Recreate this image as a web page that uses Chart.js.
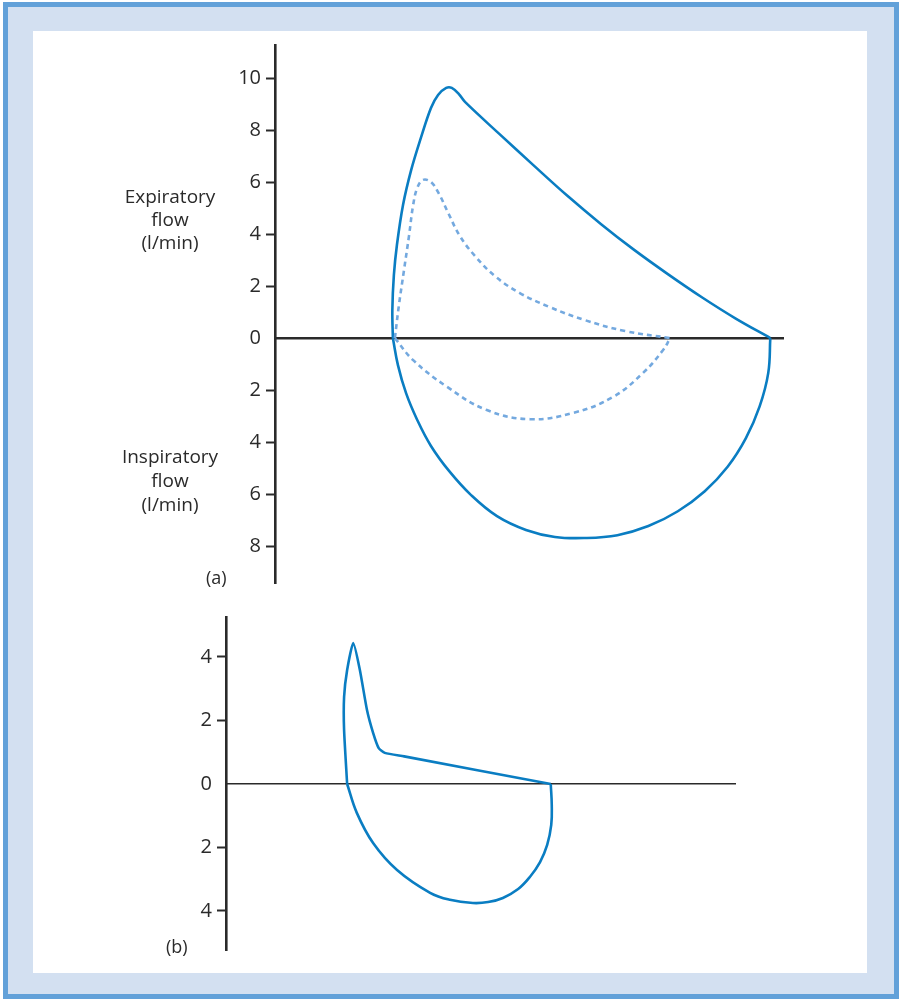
<!DOCTYPE html>
<html>
<head>
<meta charset="utf-8">
<script src="https://cdn.jsdelivr.net/npm/chart.js@4.4.1/dist/chart.umd.min.js"></script>
<style>
  body { margin:0; background:#fff; width:903px; height:1002px; position:relative; overflow:hidden;
         font-family:'Open Sans', sans-serif; color:#2a2a2a; }
  #frame { position:absolute; left:3px; top:2px; width:886px; height:987px; border:5px solid #62a1d9; background:#d3e0f1; }
  #panel { position:absolute; left:33px; top:31px; width:834px; height:942px; background:#fff; }
  canvas { position:absolute; }
  .lbl { position:absolute; left:95px; width:150px; text-align:center; font-size:19px; }
  .tag { position:absolute; font-size:18px; }
</style>
</head>
<body>
<div id="frame"></div>
<div id="panel"></div>

<canvas id="chartA" width="600" height="572" style="left:200px;top:28px"></canvas>
<canvas id="chartB" width="601" height="367" style="left:151px;top:600px"></canvas>

<div class="lbl" style="top:185px;line-height:23px">Expiratory<br>flow<br>(l/min)</div>
<div class="lbl" style="top:444px;line-height:24px">Inspiratory<br>flow<br>(l/min)</div>
<div class="tag" style="left:206px;top:565px">(a)</div>
<div class="tag" style="left:166px;top:934px">(b)</div>

<script>
// (a) maximal effort loop (solid)
const aExpVol  = [2.32, 2.31, 2.34, 2.40, 2.52, 2.68, 2.87, 3.07, 3.21, 3.37, 3.48, 3.62, 3.74,
                  4.41, 5.08, 5.75, 6.42, 7.07, 7.74, 8.41, 9.07, 9.75];
const aExpFlow = [0, 1.08, 2.42, 3.58, 5.12, 6.46, 7.69, 8.85, 9.35, 9.62, 9.62, 9.38, 9.08,
                  7.86, 6.66, 5.48, 4.38, 3.39, 2.45, 1.56, 0.75, 0];
const aInsVol  = [2.32, 2.42, 2.58, 2.80, 3.07, 3.43, 3.86, 4.37, 4.94, 5.51, 6.10,
                  6.74, 7.35, 7.93, 8.46, 8.91, 9.27, 9.54, 9.71, 9.75];
const aInsFlow = [0, -1.04, -2.12, -3.15, -4.15, -5.12, -6.04, -6.85, -7.38, -7.65, -7.69,
                  -7.58, -7.23, -6.66, -5.89, -4.95, -3.85, -2.63, -1.34, 0];

// (a) tidal loop (dashed)
const aTidExpVol  = [2.36, 2.44, 2.54, 2.64, 2.72, 2.80, 2.91, 3.07, 3.23, 3.41, 3.64, 3.94, 4.33, 4.82, 5.41, 6.10, 6.89, 7.78];
const aTidExpFlow = [0, 1.27, 2.62, 3.96, 5.12, 5.77, 6.08, 6.0, 5.54, 4.81, 3.92, 3.15, 2.38, 1.73, 1.19, 0.69, 0.27, 0];
const aTidInsVol  = [2.36, 2.72, 3.39, 4.17, 5.02, 5.87, 6.65, 7.24, 7.64, 7.78];
const aTidInsFlow = [0, -0.85, -1.88, -2.77, -3.12, -2.88, -2.27, -1.35, -0.46, 0];

// (b) loop
const bExpVol  = [2.38, 2.32, 2.32, 2.38, 2.50, 2.63, 2.77, 2.89, 3.00, 3.12, 3.50, 6.38];
const bExpFlow = [0, 1.70, 2.74, 3.59, 4.44, 3.59, 2.33, 1.61, 1.13, 0.98, 0.87, 0];
const bInsVol  = [2.38, 2.57, 2.89, 3.36, 4.01, 4.40, 4.85, 5.15, 5.44, 5.74, 5.97, 6.17, 6.31, 6.39, 6.40, 6.38];
const bInsFlow = [0, -0.91, -1.86, -2.71, -3.43, -3.65, -3.75, -3.72, -3.59, -3.31, -2.93, -2.46, -1.92, -1.29, -0.66, 0];

const ticksA = [-8, -6, -4, -2, 0, 2, 4, 6, 8, 10];
const ticksB = [-4, -2, 0, 2, 4];

const ink = '#2a2a2a';
const solid = '#0a7dc2';
const dashed = '#74a9df';

function pts(xs, ys) {
  return xs.map((x, i) => ({ x: x, y: ys[i] }));
}

function line(xs, ys, color, dash, tension) {
  return {
    data: pts(xs, ys),
    showLine: true,
    borderColor: color,
    borderWidth: 2.6,
    borderDash: dash || [],
    pointRadius: 0,
    tension: tension,
    fill: false
  };
}

function makeConfig(datasets, yMin, yMax, ticks, xBorder) {
  return {
    type: 'scatter',
    data: { datasets: datasets },
    options: {
      responsive: false,
      animation: false,
      layout: { padding: { left: 15, right: 17, top: 17, bottom: 17 } },
      plugins: { legend: { display: false }, tooltip: { enabled: false } },
      scales: {
        x: {
          type: 'linear', min: 0, max: 10,
          position: { y: 0 },
          ticks: { display: false },
          grid: { display: false },
          border: { display: true, color: ink, width: xBorder }
        },
        y: {
          type: 'linear', min: yMin, max: yMax,
          afterBuildTicks: axis => { axis.ticks = ticks.map(v => ({ value: v })); },
          afterFit: axis => { axis.width = 60; },
          ticks: {
            padding: 5,
            color: ink,
            font: { family: 'Open Sans', size: 20 },
            callback: v => String(Math.abs(v))
          },
          grid: {
            drawOnChartArea: false,
            drawTicks: true,
            tickLength: 9,
            tickWidth: 2,
            tickColor: c => (c.tick && c.tick.value === 0) ? 'rgba(0,0,0,0)' : ink
          },
          border: { display: true, color: ink, width: 2.6 }
        }
      }
    }
  };
}

window.onload = function () {
  new Chart(document.getElementById('chartA'), makeConfig([
    line(aTidExpVol, aTidExpFlow, dashed, [5, 4], 0.4),
    line(aTidInsVol, aTidInsFlow, dashed, [5, 4], 0.4),
    line(aExpVol, aExpFlow, solid, null, 0.35),
    line(aInsVol, aInsFlow, solid, null, 0.4)
  ], -9.42, 11.27, ticksA, 2.6));

  new Chart(document.getElementById('chartB'), makeConfig([
    line(bExpVol, bExpFlow, solid, null, 0.2),
    line(bInsVol, bInsFlow, solid, null, 0.4)
  ], -5.23, 5.26, ticksB, 1.6));
};
</script>
</body>
</html>
